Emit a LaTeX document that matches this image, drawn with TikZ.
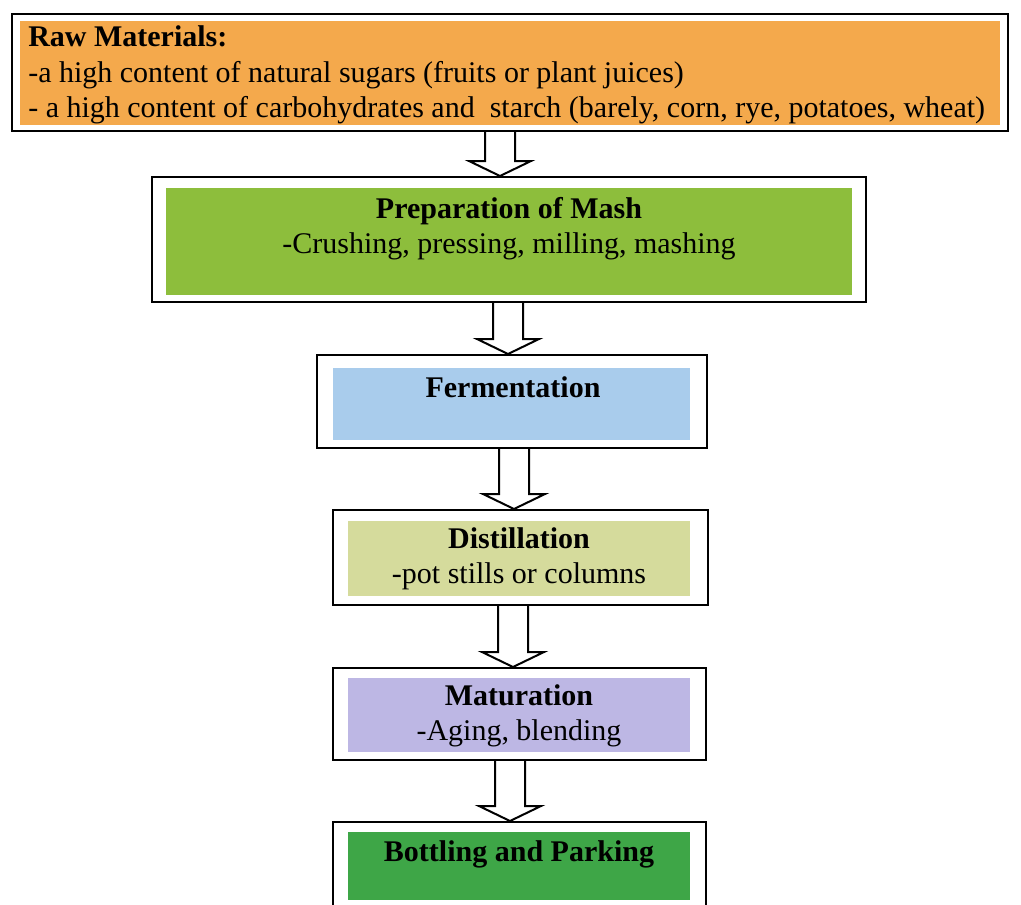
\documentclass[tikz,border=0pt]{standalone}
\usepackage{fontspec}
\setmainfont{Liberation Serif}
\usetikzlibrary{calc}
\definecolor{cOrange}{HTML}{F4A94C}
\definecolor{cMash}{HTML}{8DBE3C}
\definecolor{cFerm}{HTML}{A9CCEC}
\definecolor{cDist}{HTML}{D5DB9C}
\definecolor{cMat}{HTML}{BDB7E4}
\definecolor{cBott}{HTML}{3EA647}
\tikzset{
  outerbox/.style={draw=black, line width=1.5pt, fill=white, inner sep=0pt},
  fillin/.style n args={5}{path picture={\fill[#1] ($(path picture bounding box.north west)+(#2,#3)$) rectangle ($(path picture bounding box.south east)+(-#4,-#5)$);}},
  txt/.style={align=center, inner sep=0pt},
  arrowline/.style={draw=black, line width=1.5pt, line join=miter, fill=white}
}
\newcommand\flowarrow[3]{%
  \coordinate (ax) at (#3,0);
  \draw[arrowline] ($(#1.south -| ax)+(-15,0)$) -- ($(#2.north -| ax)+(-15,-15)$) -- ($(#2.north -| ax)+(-31,-15)$) -- (#2.north -| ax) -- ($(#2.north -| ax)+(31,-15)$) -- ($(#2.north -| ax)+(15,-15)$) -- ($(#1.south -| ax)+(15,0)$);%
}
\begin{document}
\begin{tikzpicture}[x=0.75pt,y=-0.75pt, font=\fontsize{22.5}{26.5}\selectfont]
\useasboundingbox (0,0) rectangle (1021,904);
\clip (0,0) rectangle (1021,904);
\fill[white] (0,0) rectangle (1021,904);

% boxes
\node[outerbox, minimum width=747pt, minimum height=87.75pt, fillin={cOrange}{8}{7}{8}{6}] (raw) at (510,72.5) {};
\node[txt, anchor=west, align=left] (rawt) at (28,75) {\textbf{Raw Materials:}\\-a high content of natural sugars (fruits or plant juices)\\- a high content of carbohydrates and\ \ starch (barely, corn, rye, potatoes, wheat)};

\node[outerbox, minimum width=535.5pt, minimum height=93.75pt, fillin={cMash}{14}{11}{14}{7}] (mash) at (509,239.5) {};
\node[txt] (masht) at (509,229) {\textbf{Preparation of Mash}\\-Crushing, pressing, milling, mashing};

\node[outerbox, minimum width=292.5pt, minimum height=69.75pt, fillin={cFerm}{16}{13}{17}{8}] (ferm) at (512,401.5) {};
\node[txt] (fermt) at (513,387) {\textbf{Fermentation}};

\node[outerbox, minimum width=281.25pt, minimum height=71.25pt, fillin={cDist}{15}{11}{18}{9}] (dist) at (520.5,557.5) {};
\node[txt] (distt) at (519,559) {\textbf{Distillation}\\-pot stills or columns};

\node[outerbox, minimum width=279.75pt, minimum height=69pt, fillin={cMat}{15}{10}{16}{8}] (mat) at (519.5,714) {};
\node[txt] (matt) at (519,716) {\textbf{Maturation}\\-Aging, blending};

\node[outerbox, minimum width=279.75pt, minimum height=69pt, fillin={cBott}{15}{10}{16}{14}] (bott) at (519.5,868) {};
\node[txt] (bottt) at (519,854) {\textbf{Bottling and Parking}};

% arrows
\flowarrow{raw}{mash}{500}
\flowarrow{mash}{ferm}{508}
\flowarrow{ferm}{dist}{514}
\flowarrow{dist}{mat}{513}
\flowarrow{mat}{bott}{510}
\end{tikzpicture}
\end{document}
